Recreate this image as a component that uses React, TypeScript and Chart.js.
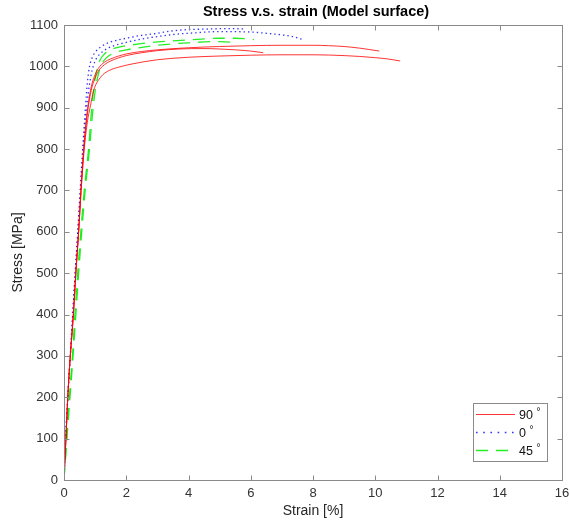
import React, { useEffect, useRef } from "react";
import { Chart, registerables } from "chart.js";

Chart.register(...registerables);

// ---- Data (strain in %, stress in MPa) ----
const red1Strain = [0, 0.06, 0.12, 0.2, 0.3, 0.38, 0.47, 0.55, 0.65, 0.75, 0.85, 0.93, 1.0, 1.1, 1.25, 1.45, 1.8, 2.2, 3.0, 4.0, 5.0, 6.0, 7.0, 8.0, 9.0, 9.5, 10.0, 10.4, 10.8];
const red1Stress = [0, 97, 198, 298, 399, 500, 600, 700, 800, 865, 905, 935, 952, 966, 980, 990, 999, 1006, 1016, 1022, 1025, 1027, 1028, 1028, 1026, 1024, 1021, 1018, 1013];

const red2Strain = [0, 0.06, 0.12, 0.2, 0.3, 0.38, 0.47, 0.54, 0.62, 0.7, 0.8, 0.9, 1.0, 1.1, 1.3, 1.5, 2.0, 2.5, 3.0, 4.0, 5.0, 6.0, 7.0, 8.0, 8.5, 9.0, 9.5, 10.13];
const red2Stress = [0, 97, 198, 298, 399, 500, 600, 700, 790, 860, 920, 958, 980, 995, 1010, 1018, 1030, 1036, 1040, 1045, 1048, 1050, 1051, 1051, 1050, 1048, 1044, 1037];

const red3Strain = [0, 0.06, 0.12, 0.2, 0.3, 0.38, 0.47, 0.55, 0.63, 0.71, 0.8, 0.9, 1.0, 1.1, 1.3, 1.5, 2.0, 2.5, 3.0, 3.7, 4.5, 5.0, 5.5, 6.0, 6.4];
const red3Stress = [0, 97, 198, 298, 399, 500, 600, 700, 790, 858, 912, 950, 972, 988, 1004, 1013, 1026, 1033, 1038, 1042, 1043, 1042, 1040, 1037, 1033];

const blue1Strain = [0, 0.05, 0.12, 0.2, 0.28, 0.36, 0.44, 0.52, 0.6, 0.68, 0.75, 0.82, 0.9, 1.0, 1.2, 1.5, 2.0, 2.5, 3.0, 3.5, 4.0, 4.5, 5.0, 5.5, 5.85];
const blue1Stress = [0, 97, 198, 298, 399, 500, 600, 700, 801, 890, 960, 1000, 1020, 1034, 1048, 1059, 1068, 1075, 1080, 1086, 1089, 1090, 1091, 1091, 1090];

const blue2Strain = [0, 0.05, 0.12, 0.2, 0.28, 0.36, 0.45, 0.53, 0.62, 0.7, 0.78, 0.86, 0.95, 1.05, 1.25, 1.5, 2.0, 2.5, 3.0, 3.5, 4.0, 5.0, 6.0, 6.5, 7.0, 7.4, 7.7];
const blue2Stress = [0, 97, 198, 298, 399, 500, 600, 700, 801, 880, 935, 975, 1003, 1020, 1036, 1047, 1058, 1066, 1072, 1077, 1080, 1084, 1083, 1080, 1076, 1071, 1064];

const green1Strain = [0, 0.08, 0.17, 0.27, 0.35, 0.44, 0.54, 0.65, 0.79, 0.88, 0.96, 1.05, 1.15, 1.3, 1.5, 1.8, 2.2, 2.6, 3.0, 4.0, 5.0, 5.5, 6.1];
const green1Stress = [0, 97, 198, 298, 399, 500, 600, 700, 801, 890, 950, 990, 1014, 1030, 1040, 1047, 1052, 1056, 1059, 1064, 1068, 1068, 1065];

const green2Strain = [0, 0.09, 0.19, 0.29, 0.38, 0.47, 0.57, 0.68, 0.82, 0.91, 1.0, 1.1, 1.2, 1.35, 1.6, 2.0, 2.5, 3.0, 4.0, 5.0, 5.5];
const green2Stress = [0, 97, 198, 298, 399, 500, 600, 700, 801, 880, 940, 980, 1003, 1020, 1032, 1040, 1046, 1051, 1057, 1060, 1058];

const legendLabels = ["90", "0", "45"];
const xTickValues = [0, 2, 4, 6, 8, 10, 12, 14, 16];
const yTickValues = [0, 100, 200, 300, 400, 500, 600, 700, 800, 900, 1000, 1100];

const titleText = "Stress v.s. strain (Model surface)";
const xTitle = "Strain [%]";
const yTitle = "Stress [MPa]";

const FONT = "'Liberation Sans', Arial, Helvetica, sans-serif";
const RED = "rgba(255,0,0,0.8)";
const BLUE = "rgba(0,0,255,0.8)";
const GREEN = "rgba(0,235,0,0.85)";
const BLUE_DASH = [1.4, 3];
const GREEN_DASH = [12, 8];

const zip = (xs: number[], ys: number[]) => xs.map((x, i) => ({ x, y: ys[i] }));

const mk = (label: string, xs: number[], ys: number[], color: string, dash: number[], width: number) => ({
  label,
  data: zip(xs, ys),
  borderColor: color,
  backgroundColor: color,
  borderWidth: width,
  borderDash: dash,
  showLine: true,
  pointRadius: 0,
  pointHoverRadius: 0,
  fill: false,
  cubicInterpolationMode: "monotone" as const,
});

const framePlugin = {
  id: "frameAndText",
  afterDraw(chart: any) {
    const { ctx, chartArea } = chart;
    const { left, right, top, bottom } = chartArea;
    const xs = chart.scales.x;
    const ys = chart.scales.y;
    ctx.save();
    // frame
    ctx.strokeStyle = "#8a8a8a";
    ctx.lineWidth = 1;
    ctx.setLineDash([]);
    const L = Math.round(left) + 0.5;
    const R = Math.round(right) + 0.5;
    const T = Math.round(top) + 0.5;
    const B = Math.round(bottom) + 0.5;
    ctx.strokeRect(L, T, R - L, B - T);
    const tl = 5;
    ctx.beginPath();
    xTickValues.forEach((v) => {
      const p = Math.round(xs.getPixelForValue(v)) + 0.5;
      ctx.moveTo(p, B);
      ctx.lineTo(p, B - tl);
      ctx.moveTo(p, T);
      ctx.lineTo(p, T + tl);
    });
    yTickValues.forEach((v) => {
      const p = Math.round(ys.getPixelForValue(v)) + 0.5;
      ctx.moveTo(L, p);
      ctx.lineTo(L + tl, p);
      ctx.moveTo(R, p);
      ctx.lineTo(R - tl, p);
    });
    ctx.stroke();

    // title
    ctx.fillStyle = "#000";
    ctx.font = `bold 14.5px ${FONT}`;
    ctx.textAlign = "center";
    ctx.textBaseline = "alphabetic";
    ctx.fillText(titleText, (left + right) / 2 + 3, 16);

    // axis titles
    ctx.fillStyle = "#262626";
    ctx.font = `14px ${FONT}`;
    ctx.fillText(xTitle, (left + right) / 2, 515);
    ctx.save();
    ctx.translate(22, (top + bottom) / 2);
    ctx.rotate(-Math.PI / 2);
    ctx.fillText(yTitle, 0, 0);
    ctx.restore();

    // legend
    const bx = 473.5, by = 403.5, bw = 74, bh = 58;
    ctx.fillStyle = "#fff";
    ctx.fillRect(bx, by, bw, bh);
    ctx.strokeStyle = "#8a8a8a";
    ctx.strokeRect(bx, by, bw, bh);
    const rows = [
      { color: RED, dash: [] as number[], width: 1.2, label: legendLabels[0], y: 414 },
      { color: BLUE, dash: [1.6, 5.6], width: 1.4, label: legendLabels[1], y: 432 },
      { color: GREEN, dash: GREEN_DASH, width: 1.4, label: legendLabels[2], y: 450 },
    ];
    rows.forEach((r) => {
      ctx.beginPath();
      ctx.strokeStyle = r.color;
      ctx.lineWidth = r.width;
      ctx.setLineDash(r.dash);
      ctx.moveTo(476, r.y + 0.5);
      ctx.lineTo(515, r.y + 0.5);
      ctx.stroke();
      ctx.setLineDash([]);
      ctx.fillStyle = "#111";
      ctx.textAlign = "left";
      ctx.textBaseline = "alphabetic";
      ctx.font = `12.5px ${FONT}`;
      ctx.fillText(r.label, 519, r.y + 5);
      const w = ctx.measureText(r.label).width;
      ctx.font = `10px ${FONT}`;
      ctx.fillText("\u00B0", 519 + w + 3.5, r.y + 1);
    });
    ctx.restore();
  },
};

export default function App() {
  const ref = useRef<HTMLCanvasElement | null>(null);
  useEffect(() => {
    if (!ref.current) return;
    const chart = new Chart(ref.current, {
      type: "scatter",
      data: {
        datasets: [
          mk("90a", red1Strain, red1Stress, RED, [], 1),
          mk("90b", red2Strain, red2Stress, RED, [], 1),
          mk("90c", red3Strain, red3Stress, RED, [], 1),
          mk("0a", blue1Strain, blue1Stress, BLUE, BLUE_DASH, 1.3),
          mk("0b", blue2Strain, blue2Stress, BLUE, BLUE_DASH, 1.3),
          mk("45a", green1Strain, green1Stress, GREEN, GREEN_DASH, 1.3),
          mk("45b", green2Strain, green2Stress, GREEN, GREEN_DASH, 1.3),
        ] as any,
      },
      options: {
        animation: false,
        responsive: false,
        maintainAspectRatio: false,
        events: [],
        layout: { padding: { top: 25, right: 8, left: 0, bottom: 0 } },
        plugins: {
          legend: { display: false },
          title: { display: false },
          tooltip: { enabled: false },
        },
        scales: {
          x: {
            type: "linear",
            min: 0,
            max: 16,
            grid: { display: false, drawTicks: false },
            border: { display: false },
            ticks: {
              stepSize: 2,
              padding: 6,
              maxRotation: 0,
              color: "#333",
              font: { family: FONT, size: 13 },
              callback: (v: any) => String(v),
            },
            afterFit: (s: any) => {
              s.height = 42;
              s.paddingLeft = 0;
              s.paddingRight = 0;
            },
          },
          y: {
            type: "linear",
            min: 0,
            max: 1100,
            grid: { display: false, drawTicks: false },
            border: { display: false },
            ticks: {
              stepSize: 100,
              padding: 6,
              color: "#333",
              font: { family: FONT, size: 13 },
              callback: (v: any) => String(v),
            },
            afterFit: (s: any) => {
              s.width = 64;
              s.paddingTop = 0;
              s.paddingBottom = 0;
            },
          },
        },
      },
      plugins: [framePlugin],
    });
    return () => chart.destroy();
  }, []);
  return (
    <div style={{ position: "absolute", left: 0, top: 0, width: 570, height: 522, background: "#fff" }}>
      <canvas ref={ref} width={570} height={522} style={{ display: "block", width: 570, height: 522 }} />
    </div>
  );
}
